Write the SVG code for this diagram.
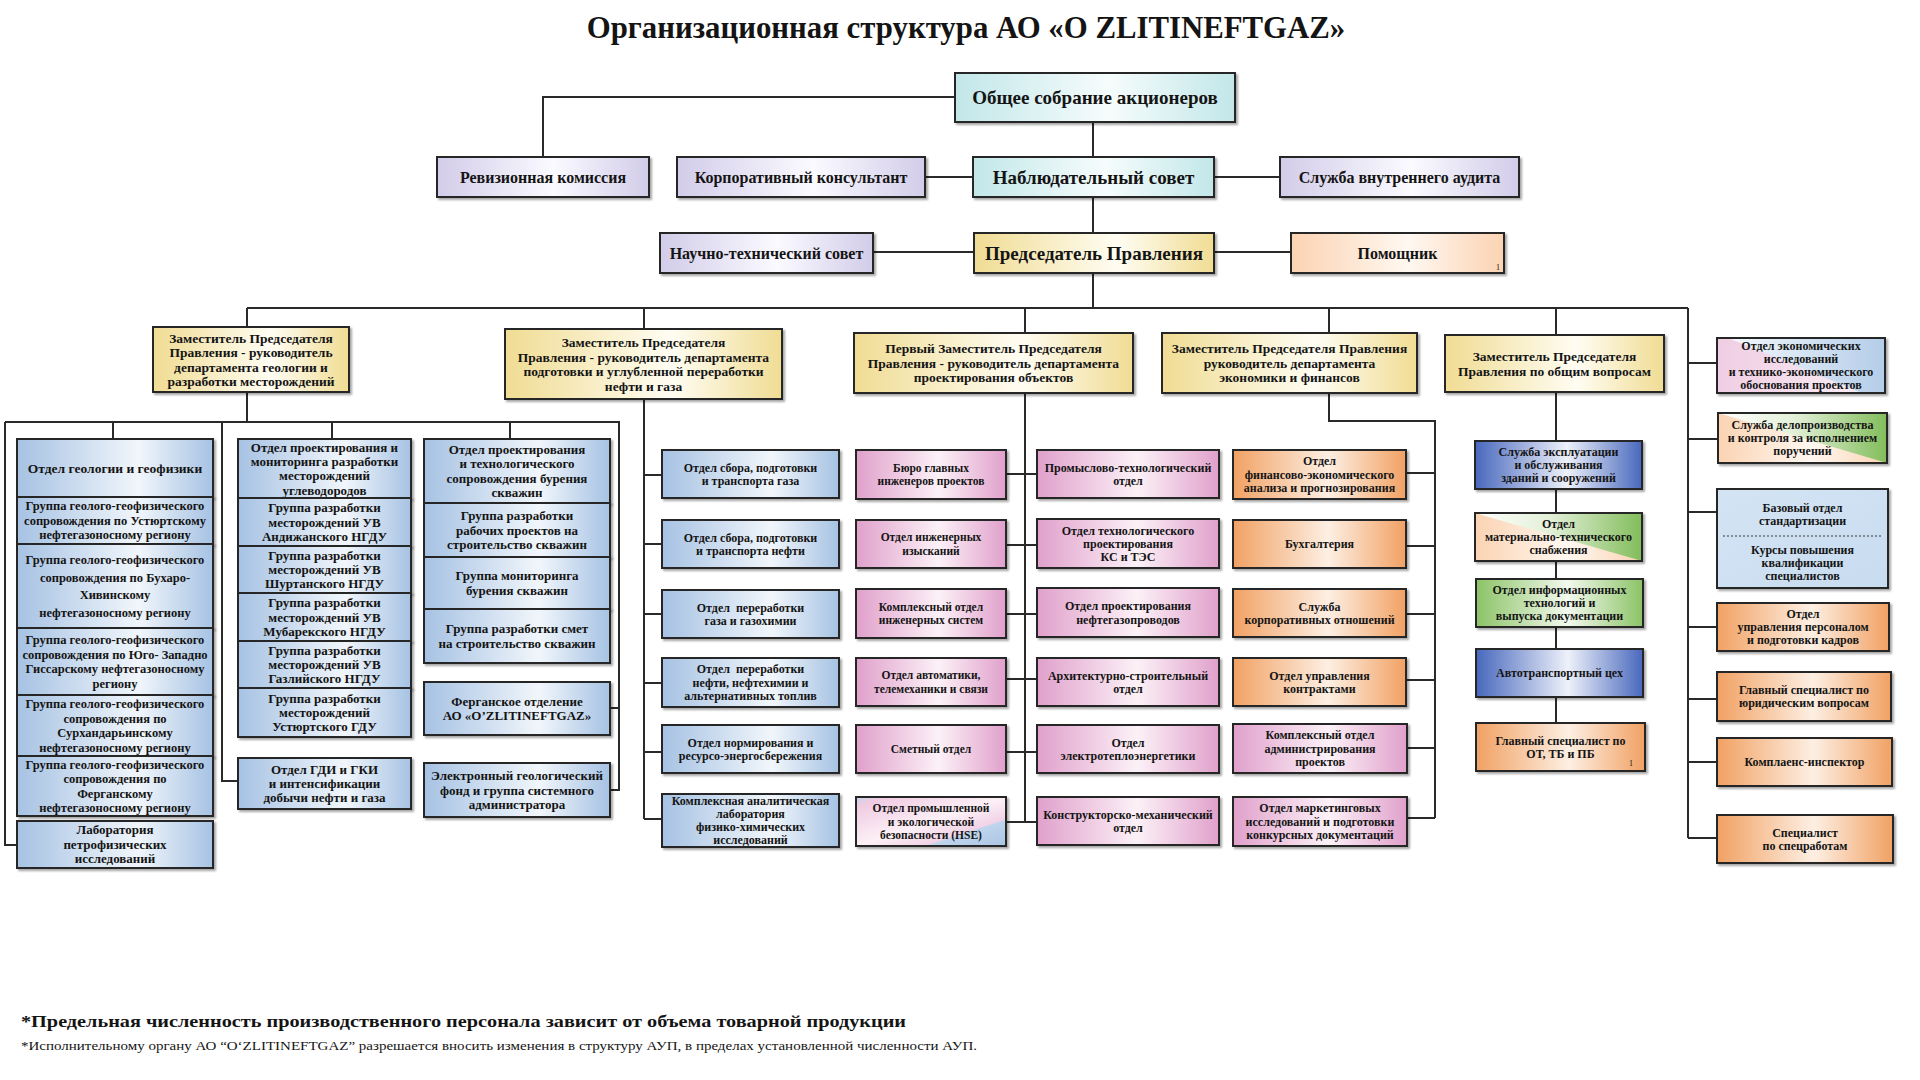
<svg xmlns="http://www.w3.org/2000/svg" width="1920" height="1080" viewBox="0 0 1920 1080">
<defs>
<linearGradient id="gBlue" x1="0" y1="0" x2="1" y2="0"><stop offset="0" stop-color="#a6c2e3"/><stop offset="0.62" stop-color="#f1f6fb"/><stop offset="1" stop-color="#a6c2e3"/></linearGradient>
<linearGradient id="gDBlue" x1="0" y1="0" x2="1" y2="0"><stop offset="0" stop-color="#4868bd"/><stop offset="0.55" stop-color="#eef1fa"/><stop offset="1" stop-color="#4868bd"/></linearGradient>
<linearGradient id="gGreen" x1="0" y1="0" x2="1" y2="0"><stop offset="0" stop-color="#8bc366"/><stop offset="0.55" stop-color="#f3f9ee"/><stop offset="1" stop-color="#8bc366"/></linearGradient>
<linearGradient id="gOrange" x1="0" y1="0" x2="1" y2="0"><stop offset="0" stop-color="#f1a163"/><stop offset="0.55" stop-color="#fdefe3"/><stop offset="1" stop-color="#f1a163"/></linearGradient>
<linearGradient id="gPink" x1="0" y1="0" x2="1" y2="0"><stop offset="0" stop-color="#e0a0cb"/><stop offset="0.55" stop-color="#fcf1f7"/><stop offset="1" stop-color="#e0a0cb"/></linearGradient>
<linearGradient id="gYellow" x1="0" y1="0" x2="1" y2="0"><stop offset="0" stop-color="#f0dc93"/><stop offset="0.6" stop-color="#fffdf3"/><stop offset="1" stop-color="#f0dc93"/></linearGradient>
<linearGradient id="gLav" x1="0" y1="0" x2="1" y2="0"><stop offset="0" stop-color="#d2cce9"/><stop offset="0.55" stop-color="#fbfaff"/><stop offset="1" stop-color="#d2cce9"/></linearGradient>
<linearGradient id="gCyan" x1="0" y1="0" x2="1" y2="0"><stop offset="0" stop-color="#c2e7e9"/><stop offset="0.55" stop-color="#f6fcfc"/><stop offset="1" stop-color="#c2e7e9"/></linearGradient>
<linearGradient id="gPeach" x1="0" y1="0" x2="1" y2="0"><stop offset="0" stop-color="#fbd3b2"/><stop offset="0.55" stop-color="#fff8f1"/><stop offset="1" stop-color="#fbd3b2"/></linearGradient>
<linearGradient id="gLBlue" x1="0" y1="0" x2="1" y2="1"><stop offset="0" stop-color="#d4e4f4"/><stop offset="1" stop-color="#c8dcf0"/></linearGradient>
<linearGradient id="gGreenTri" x1="0" y1="0" x2="1" y2="0"><stop offset="0" stop-color="#ffffff"/><stop offset="0.45" stop-color="#e3f0d8"/><stop offset="1" stop-color="#82bd5b"/></linearGradient>
<linearGradient id="gBlueTri" x1="0" y1="0" x2="1" y2="0"><stop offset="0" stop-color="#f4f8fc"/><stop offset="1" stop-color="#b4cde9"/></linearGradient>
<linearGradient id="gPinkBl" x1="0" y1="0" x2="1" y2="0"><stop offset="0" stop-color="#efcde3"/><stop offset="1" stop-color="#fbf2f7"/></linearGradient>
<linearGradient id="gHSE" x1="0" y1="0" x2="1" y2="1"><stop offset="0" stop-color="#c3d7ee"/><stop offset="0.1" stop-color="#f0cbe2"/><stop offset="0.5" stop-color="#fcf0f6"/><stop offset="0.72" stop-color="#f1d3e6"/><stop offset="0.74" stop-color="#bfd5ed"/><stop offset="1" stop-color="#a9c4e4"/></linearGradient>
<filter id="sh" x="-5%" y="-10%" width="115%" height="135%"><feDropShadow dx="2" dy="2" stdDeviation="1" flood-color="#000" flood-opacity="0.35"/></filter>
</defs>
<style>
.bx{stroke:#262626;stroke-width:2;filter:url(#sh)}
.ol{fill:none;stroke:#262626;stroke-width:2}
.blue{fill:url(#gBlue)} .dblue{fill:url(#gDBlue)} .green{fill:url(#gGreen)} .orange{fill:url(#gOrange)}
.pink{fill:url(#gPink)} .yellow{fill:url(#gYellow)} .lav{fill:url(#gLav)} .cyan{fill:url(#gCyan)}
.peach{fill:url(#gPeach)} .lblue{fill:url(#gLBlue)} .hse{fill:url(#gHSE)}
text{font-family:"Liberation Serif","DejaVu Serif","Times New Roman",serif;font-weight:bold;fill:#141414;text-anchor:middle}
.t19{font-size:19px} .t16{font-size:16px} .t135{font-size:13.5px} .t13{font-size:13px} .t125{font-size:12.5px} .t12{font-size:12px} .t115{font-size:11.5px}
.tiny{font-size:8px;font-weight:normal}
#connectors path{fill:none;stroke:#2a2a2a;stroke-width:2}
</style>
<rect width="1920" height="1080" fill="#ffffff"/>

<text x="966" y="38" style="font-size:30.8px">Организационная структура АО «O ZLITINEFTGAZ»</text>

<g id="connectors">
<path d="M955 97 H543 V157"/>
<path d="M1093 122 V157"/>
<path d="M925 177 H973"/>
<path d="M1214 177 H1280"/>
<path d="M1093 197 V233"/>
<path d="M873 252 H974"/>
<path d="M1214 252 H1291"/>
<path d="M1093 273 V308"/>
<path d="M247 308 H1688"/>
<path d="M247 308 V327"/>
<path d="M644 308 V329"/>
<path d="M1025 308 V333"/>
<path d="M1329 308 V333"/>
<path d="M1556 308 V335"/>
<path d="M1688 308 V838"/>
<path d="M247 392 V422"/>
<path d="M5 422 H619 V790 H610"/>
<path d="M5 422 V845 H17"/>
<path d="M113 422 V439"/>
<path d="M332 422 V439"/>
<path d="M510 422 V439"/>
<path d="M222 422 V781 H238"/>
<path d="M619 708 H610"/>
<path d="M644 399 V819"/>
<path d="M644 475 H662 M644 544 H662 M644 614 H662 M644 683 H662 M644 752 H662 M644 819 H662"/>
<path d="M1025 393 V822"/>
<path d="M1006 474 H1037 M1006 545 H1037 M1006 614 H1037 M1006 679 H1037 M1006 752 H1037 M1006 822 H1037"/>
<path d="M1329 393 V421 H1435 V818"/>
<path d="M1406 473 H1435 M1406 546 H1435 M1406 614 H1435 M1406 680 H1435 M1406 748 H1435 M1407 818 H1435"/>
<path d="M1556 392 V441 M1556 489 V513 M1556 561 V579 M1556 627 V649 M1556 697 V723"/>
<path d="M1688 363 H1717 M1688 439 H1718 M1688 512 H1717 M1688 627 H1717 M1688 699 H1717 M1688 762 H1717 M1688 838 H1717"/>
</g>

<!-- top level -->
<g id="n-obshee"><rect class="bx cyan" x="955" y="73" width="280" height="49"/><text class="t19" x="1095" y="104">Общее собрание акционеров</text></g>
<g id="n-reviz"><rect class="bx lav" x="437" y="157" width="212" height="40"/><text class="t16" x="543" y="183">Ревизионная комиссия</text></g>
<g id="n-korp"><rect class="bx lav" x="677" y="157" width="248" height="40"/><text class="t16" x="801" y="183">Корпоративный консультант</text></g>
<g id="n-nabl"><rect class="bx cyan" x="973" y="157" width="241" height="40"/><text class="t19" x="1093.5" y="184">Наблюдательный совет</text></g>
<g id="n-audit"><rect class="bx lav" x="1280" y="157" width="239" height="40"/><text class="t16" x="1399.5" y="183">Служба внутреннего аудита</text></g>
<g id="n-ntc"><rect class="bx lav" x="660" y="233" width="213" height="40"/><text class="t16" x="766.5" y="259">Научно-технический совет</text></g>
<g id="n-pred"><rect class="bx yellow" x="974" y="233" width="240" height="40"/><text class="t19" x="1094" y="260">Председатель Правления</text></g>
<g id="n-pomosh"><rect class="bx peach" x="1291" y="233" width="213" height="40"/><text class="t16" x="1397.5" y="259">Помощник</text><text class="tiny" x="1498" y="270">1</text></g>

<!-- heads -->
<g id="n-h1"><rect class="bx yellow" x="153" y="327" width="196" height="65"/><text class="t135" x="251" y="342.5"><tspan x="251">Заместитель Председателя</tspan><tspan x="251" dy="14.5">Правления - руководитель</tspan><tspan x="251" dy="14.5">департамента геологии и</tspan><tspan x="251" dy="14.5">разработки месторождений</tspan></text></g>
<g id="n-h2"><rect class="bx yellow" x="505" y="329" width="277" height="70"/><text class="t135" x="643.5" y="347"><tspan x="643.5">Заместитель Председателя</tspan><tspan x="643.5" dy="14.5">Правления - руководитель департамента</tspan><tspan x="643.5" dy="14.5">подготовки и углубленной переработки</tspan><tspan x="643.5" dy="14.5">нефти и газа</tspan></text></g>
<g id="n-h3"><rect class="bx yellow" x="854" y="333" width="279" height="60"/><text class="t135" x="993.5" y="353"><tspan x="993.5">Первый Заместитель Председателя</tspan><tspan x="993.5" dy="14.5">Правления - руководитель департамента</tspan><tspan x="993.5" dy="14.5">проектирования объектов</tspan></text></g>
<g id="n-h4"><rect class="bx yellow" x="1162" y="333" width="255" height="60"/><text class="t135" x="1289.5" y="353"><tspan x="1289.5">Заместитель Председателя Правления</tspan><tspan x="1289.5" dy="14.5">руководитель департамента</tspan><tspan x="1289.5" dy="14.5">экономики и финансов</tspan></text></g>
<g id="n-h5"><rect class="bx yellow" x="1445" y="335" width="219" height="57"/><text class="t135" x="1554.5" y="361"><tspan x="1554.5">Заместитель Председателя</tspan><tspan x="1554.5" dy="14.5">Правления по общим вопросам</tspan></text></g>

<!-- column 1 -->
<g id="n-geo"><rect class="bx blue" x="17" y="439" width="196" height="58"/><text class="t135" x="115" y="472.5">Отдел геологии и геофизики</text></g>
<g id="n-g1"><rect class="bx blue" x="17" y="497" width="196" height="47"/><text class="t125" x="115" y="510.4"><tspan x="115">Группа геолого-геофизического</tspan><tspan x="115" dy="14.5">сопровождения по Устюртскому</tspan><tspan x="115" dy="14.5">нефтегазоносному региону</tspan></text></g>
<g id="n-g2"><rect class="bx blue" x="17" y="544" width="196" height="84"/><text class="t125" x="115" y="564.2"><tspan x="115">Группа геолого-геофизического</tspan><tspan x="115" dy="17.5">сопровождения по Бухаро-</tspan><tspan x="115" dy="17.5">Хивинскому</tspan><tspan x="115" dy="17.5">нефтегазоносному региону</tspan></text></g>
<g id="n-g3"><rect class="bx blue" x="17" y="628" width="196" height="67"/><text class="t125" x="115" y="644.2"><tspan x="115">Группа геолого-геофизического</tspan><tspan x="115" dy="14.5">сопровождения по Юго- Западно</tspan><tspan x="115" dy="14.5">Гиссарскому нефтегазоносному</tspan><tspan x="115" dy="14.5">региону</tspan></text></g>
<g id="n-g4"><rect class="bx blue" x="17" y="695" width="196" height="61"/><text class="t125" x="115" y="708.2"><tspan x="115">Группа геолого-геофизического</tspan><tspan x="115" dy="14.5">сопровождения по</tspan><tspan x="115" dy="14.5">Сурхандарьинскому</tspan><tspan x="115" dy="14.5">нефтегазоносному региону</tspan></text></g>
<g id="n-g5"><rect class="bx blue" x="17" y="756" width="196" height="60"/><text class="t125" x="115" y="768.7"><tspan x="115">Группа геолого-геофизического</tspan><tspan x="115" dy="14.5">сопровождения по</tspan><tspan x="115" dy="14.5">Ферганскому</tspan><tspan x="115" dy="14.5">нефтегазоносному региону</tspan></text></g>
<g id="n-lab"><rect class="bx blue" x="17" y="821" width="196" height="47"/><text class="t13" x="115" y="834.4"><tspan x="115">Лаборатория</tspan><tspan x="115" dy="14.5">петрофизических</tspan><tspan x="115" dy="14.5">исследований</tspan></text></g>

<!-- column 2 -->
<g id="n-c2h"><rect class="bx blue" x="238" y="439" width="173" height="59"/><text class="t13" x="324.5" y="451.6"><tspan x="324.5">Отдел проектирования и</tspan><tspan x="324.5" dy="14.3">мониторинга разработки</tspan><tspan x="324.5" dy="14.3">месторождений</tspan><tspan x="324.5" dy="14.3">углеводородов</tspan></text></g>
<g id="n-c2a"><rect class="bx blue" x="238" y="498" width="173" height="48"/><text class="t13" x="324.5" y="512.3"><tspan x="324.5">Группа разработки</tspan><tspan x="324.5" dy="14.3">месторождений УВ</tspan><tspan x="324.5" dy="14.3">Андижанского НГДУ</tspan></text></g>
<g id="n-c2b"><rect class="bx blue" x="238" y="546" width="173" height="47"/><text class="t13" x="324.5" y="559.8"><tspan x="324.5">Группа разработки</tspan><tspan x="324.5" dy="14.3">месторождений УВ</tspan><tspan x="324.5" dy="14.3">Шуртанского НГДУ</tspan></text></g>
<g id="n-c2c"><rect class="bx blue" x="238" y="593" width="173" height="48"/><text class="t13" x="324.5" y="607.3"><tspan x="324.5">Группа разработки</tspan><tspan x="324.5" dy="14.3">месторождений УВ</tspan><tspan x="324.5" dy="14.3">Мубарекского НГДУ</tspan></text></g>
<g id="n-c2d"><rect class="bx blue" x="238" y="641" width="173" height="47"/><text class="t13" x="324.5" y="654.8"><tspan x="324.5">Группа разработки</tspan><tspan x="324.5" dy="14.3">месторождений УВ</tspan><tspan x="324.5" dy="14.3">Газлийского НГДУ</tspan></text></g>
<g id="n-c2e"><rect class="bx blue" x="238" y="688" width="173" height="49"/><text class="t13" x="324.5" y="702.8"><tspan x="324.5">Группа разработки</tspan><tspan x="324.5" dy="14.3">месторождений</tspan><tspan x="324.5" dy="14.3">Устюртского ГДУ</tspan></text></g>
<g id="n-gdi"><rect class="bx blue" x="238" y="758" width="173" height="51"/><text class="t13" x="324.5" y="773.8"><tspan x="324.5">Отдел ГДИ и ГКИ</tspan><tspan x="324.5" dy="14.3">и интенсификации</tspan><tspan x="324.5" dy="14.3">добычи нефти и газа</tspan></text></g>

<!-- column 3 -->
<g id="n-c3h"><rect class="bx blue" x="424" y="439" width="186" height="64"/><text class="t13" x="517" y="453.8"><tspan x="517">Отдел проектирования</tspan><tspan x="517" dy="14.5">и технологического</tspan><tspan x="517" dy="14.5">сопровождения бурения</tspan><tspan x="517" dy="14.5">скважин</tspan></text></g>
<g id="n-c3a"><rect class="bx blue" x="424" y="503" width="186" height="54"/><text class="t13" x="517" y="520"><tspan x="517">Группа разработки</tspan><tspan x="517" dy="14.5">рабочих проектов на</tspan><tspan x="517" dy="14.5">строительство скважин</tspan></text></g>
<g id="n-c3b"><rect class="bx blue" x="424" y="557" width="186" height="52"/><text class="t13" x="517" y="580.3"><tspan x="517">Группа мониторинга</tspan><tspan x="517" dy="14.5">бурения скважин</tspan></text></g>
<g id="n-c3c"><rect class="bx blue" x="424" y="609" width="186" height="54"/><text class="t13" x="517" y="633.3"><tspan x="517">Группа разработки смет</tspan><tspan x="517" dy="14.5">на строительство скважин</tspan></text></g>
<g id="n-ferg"><rect class="bx blue" x="424" y="682" width="186" height="53"/><text class="t13" x="517" y="705.8"><tspan x="517">Ферганское отделение</tspan><tspan x="517" dy="14.5">АО «O’ZLITINEFTGAZ»</tspan></text></g>
<g id="n-efond"><rect class="bx blue" x="424" y="763" width="186" height="54"/><text class="t13" x="517" y="780"><tspan x="517">Электронный геологический</tspan><tspan x="517" dy="14.5">фонд и группа системного</tspan><tspan x="517" dy="14.5">администратора</tspan></text></g>

<!-- column 4 -->
<g id="n-c4a"><rect class="bx blue" x="662" y="450" width="177" height="48"/><text class="t12" x="750.5" y="471.5"><tspan x="750.5">Отдел сбора, подготовки</tspan><tspan x="750.5" dy="13.5">и транспорта газа</tspan></text></g>
<g id="n-c4b"><rect class="bx blue" x="662" y="520" width="177" height="48"/><text class="t12" x="750.5" y="541.5"><tspan x="750.5">Отдел сбора, подготовки</tspan><tspan x="750.5" dy="13.5">и транспорта нефти</tspan></text></g>
<g id="n-c4c"><rect class="bx blue" x="662" y="590" width="177" height="48"/><text class="t12" x="750.5" y="611.5" xml:space="preserve"><tspan x="750.5">Отдел  переработки</tspan><tspan x="750.5" dy="13.5">газа и газохимии</tspan></text></g>
<g id="n-c4d"><rect class="bx blue" x="662" y="658" width="177" height="49"/><text class="t12" x="750.5" y="673.2" xml:space="preserve"><tspan x="750.5">Отдел  переработки</tspan><tspan x="750.5" dy="13.5">нефти, нефтехимии и</tspan><tspan x="750.5" dy="13.5">альтернативных топлив</tspan></text></g>
<g id="n-c4e"><rect class="bx blue" x="662" y="725" width="177" height="48"/><text class="t12" x="750.5" y="746.5"><tspan x="750.5">Отдел нормирования и</tspan><tspan x="750.5" dy="13.5">ресурсо-энергосбережения</tspan></text></g>
<g id="n-c4f"><rect class="bx blue" x="662" y="794" width="177" height="53"/><text class="t12" x="750.5" y="805.2"><tspan x="750.5">Комплексная аналитическая</tspan><tspan x="750.5" dy="13">лаборатория</tspan><tspan x="750.5" dy="13">физико-химических</tspan><tspan x="750.5" dy="13">исследований</tspan></text></g>

<!-- column 5 -->
<g id="n-c5a"><rect class="bx pink" x="856" y="450" width="150" height="49"/><text class="t115" x="931" y="471.8"><tspan x="931">Бюро главных</tspan><tspan x="931" dy="13.5">инженеров проектов</tspan></text></g>
<g id="n-c5b"><rect class="bx pink" x="856" y="520" width="150" height="48"/><text class="t115" x="931" y="541.3"><tspan x="931">Отдел инженерных</tspan><tspan x="931" dy="13.5">изысканий</tspan></text></g>
<g id="n-c5c"><rect class="bx pink" x="856" y="589" width="150" height="49"/><text class="t115" x="931" y="610.8"><tspan x="931">Комплексный отдел</tspan><tspan x="931" dy="13.5">инженерных систем</tspan></text></g>
<g id="n-c5d"><rect class="bx pink" x="856" y="658" width="150" height="48"/><text class="t115" x="931" y="679.3"><tspan x="931">Отдел автоматики,</tspan><tspan x="931" dy="13.5">телемеханики и связи</tspan></text></g>
<g id="n-c5e"><rect class="bx pink" x="856" y="725" width="150" height="48"/><text class="t115" x="931" y="753">Сметный отдел</text></g>
<g id="n-c5f"><rect class="bx hse" x="856" y="797" width="150" height="49"/><text class="t115" x="931" y="812"><tspan x="931">Отдел промышленной</tspan><tspan x="931" dy="13.5">и экологической</tspan><tspan x="931" dy="13.5">безопасности (HSE)</tspan></text></g>

<!-- column 6 -->
<g id="n-c6a"><rect class="bx pink" x="1037" y="450" width="182" height="48"/><text class="t12" x="1128" y="471.5"><tspan x="1128">Промыслово-технологический</tspan><tspan x="1128" dy="13.5">отдел</tspan></text></g>
<g id="n-c6b"><rect class="bx pink" x="1037" y="519" width="182" height="49"/><text class="t12" x="1128" y="534.7"><tspan x="1128">Отдел технологического</tspan><tspan x="1128" dy="13">проектирования</tspan><tspan x="1128" dy="13">КС и ТЭС</tspan></text></g>
<g id="n-c6c"><rect class="bx pink" x="1037" y="588" width="182" height="49"/><text class="t12" x="1128" y="610"><tspan x="1128">Отдел проектирования</tspan><tspan x="1128" dy="13.5">нефтегазопроводов</tspan></text></g>
<g id="n-c6d"><rect class="bx pink" x="1037" y="658" width="182" height="48"/><text class="t12" x="1128" y="679.5"><tspan x="1128">Архитектурно-строительный</tspan><tspan x="1128" dy="13.5">отдел</tspan></text></g>
<g id="n-c6e"><rect class="bx pink" x="1037" y="725" width="182" height="48"/><text class="t12" x="1128" y="746.5"><tspan x="1128">Отдел</tspan><tspan x="1128" dy="13.5">электротеплоэнергетики</tspan></text></g>
<g id="n-c6f"><rect class="bx pink" x="1037" y="797" width="182" height="48"/><text class="t12" x="1128" y="818.5"><tspan x="1128">Конструкторско-механический</tspan><tspan x="1128" dy="13.5">отдел</tspan></text></g>

<!-- column 7 -->
<g id="n-c7a"><rect class="bx orange" x="1233" y="450" width="173" height="49"/><text class="t12" x="1319.5" y="465.2"><tspan x="1319.5">Отдел</tspan><tspan x="1319.5" dy="13.5">финансово-экономического</tspan><tspan x="1319.5" dy="13.5">анализа и прогнозирования</tspan></text></g>
<g id="n-c7b"><rect class="bx orange" x="1233" y="520" width="173" height="48"/><text class="t12" x="1319.5" y="548.2">Бухгалтерия</text></g>
<g id="n-c7c"><rect class="bx orange" x="1233" y="589" width="173" height="48"/><text class="t12" x="1319.5" y="610.5"><tspan x="1319.5">Служба</tspan><tspan x="1319.5" dy="13.5">корпоративных отношений</tspan></text></g>
<g id="n-c7d"><rect class="bx orange" x="1233" y="658" width="173" height="48"/><text class="t12" x="1319.5" y="679.5"><tspan x="1319.5">Отдел управления</tspan><tspan x="1319.5" dy="13.5">контрактами</tspan></text></g>
<g id="n-c7e"><rect class="bx pink" x="1233" y="724" width="174" height="49"/><text class="t12" x="1320" y="739.2"><tspan x="1320">Комплексный отдел</tspan><tspan x="1320" dy="13.5">администрирования</tspan><tspan x="1320" dy="13.5">проектов</tspan></text></g>
<g id="n-c7f"><rect class="bx pink" x="1233" y="797" width="174" height="49"/><text class="t12" x="1320" y="812.2"><tspan x="1320">Отдел маркетинговых</tspan><tspan x="1320" dy="13.5">исследований и подготовки</tspan><tspan x="1320" dy="13.5">конкурсных документаций</tspan></text></g>

<!-- column 8 -->
<g id="n-c8a"><rect class="bx dblue" x="1475" y="441" width="167" height="48"/><text class="t12" x="1558.5" y="456.2"><tspan x="1558.5">Служба эксплуатации</tspan><tspan x="1558.5" dy="13">и обслуживания</tspan><tspan x="1558.5" dy="13">зданий и сооружений</tspan></text></g>
<g id="n-c8b"><rect class="bx peach" x="1475" y="513" width="167" height="48"/><polygon points="1475,513 1642,513 1642,561" fill="url(#gGreenTri)"/><rect class="ol" x="1475" y="513" width="167" height="48"/><text class="t12" x="1558.5" y="528.2"><tspan x="1558.5">Отдел</tspan><tspan x="1558.5" dy="13">материально-технического</tspan><tspan x="1558.5" dy="13">снабжения</tspan></text></g>
<g id="n-c8c"><rect class="bx green" x="1476" y="579" width="167" height="48"/><text class="t12" x="1559.5" y="594.2"><tspan x="1559.5">Отдел информационных</tspan><tspan x="1559.5" dy="13">технологий и</tspan><tspan x="1559.5" dy="13">выпуска документации</tspan></text></g>
<g id="n-c8d"><rect class="bx dblue" x="1476" y="649" width="167" height="48"/><text class="t12" x="1559.5" y="677.2">Автотранспортный цех</text></g>
<g id="n-c8e"><rect class="bx orange" x="1476" y="723" width="169" height="48"/><text class="t12" x="1560.5" y="744.7"><tspan x="1560.5">Главный специалист по</tspan><tspan x="1560.5" dy="13">ОТ, ТБ и ПБ</tspan></text><text class="tiny" x="1631" y="766">1</text></g>

<!-- column 9 -->
<g id="n-c9a"><rect class="bx" x="1717" y="338" width="168" height="55" fill="url(#gPinkBl)"/><polygon points="1728,338 1885,338 1885,393 1862,393" fill="url(#gBlueTri)"/><rect class="ol" x="1717" y="338" width="168" height="55"/><text class="t12" x="1801" y="350.2"><tspan x="1801">Отдел экономических</tspan><tspan x="1801" dy="13">исследований</tspan><tspan x="1801" dy="13">и технико-экономического</tspan><tspan x="1801" dy="13">обоснования проектов</tspan></text></g>
<g id="n-c9b"><rect class="bx peach" x="1718" y="413" width="169" height="50"/><polygon points="1718,413 1887,413 1887,463" fill="url(#gGreenTri)"/><rect class="ol" x="1718" y="413" width="169" height="50"/><text class="t12" x="1802.5" y="429.2"><tspan x="1802.5">Служба делопроизводства</tspan><tspan x="1802.5" dy="13">и контроля за исполнением</tspan><tspan x="1802.5" dy="13">поручений</tspan></text></g>
<g id="n-c9c"><rect class="bx lblue" x="1717" y="489" width="171" height="99"/><line x1="1723" y1="536" x2="1881" y2="536" stroke="#333" stroke-width="1" stroke-dasharray="2,2"/><text class="t12" x="1802.5" y="512"><tspan x="1802.5">Базовый отдел</tspan><tspan x="1802.5" dy="13">стандартизации</tspan></text><text class="t12" x="1802.5" y="554"><tspan x="1802.5">Курсы повышения</tspan><tspan x="1802.5" dy="13">квалификации</tspan><tspan x="1802.5" dy="13">специалистов</tspan></text></g>
<g id="n-c9d"><rect class="bx orange" x="1717" y="603" width="172" height="48"/><text class="t12" x="1803" y="618.2"><tspan x="1803">Отдел</tspan><tspan x="1803" dy="13">управления персоналом</tspan><tspan x="1803" dy="13">и подготовки кадров</tspan></text></g>
<g id="n-c9e"><rect class="bx orange" x="1717" y="672" width="174" height="49"/><text class="t12" x="1804" y="694.2"><tspan x="1804">Главный специалист по</tspan><tspan x="1804" dy="13">юридическим вопросам</tspan></text></g>
<g id="n-c9f"><rect class="bx orange" x="1717" y="738" width="175" height="48"/><text class="t12" x="1804.5" y="766.2">Комплаенс-инспектор</text></g>
<g id="n-c9g"><rect class="bx orange" x="1717" y="815" width="176" height="48"/><text class="t12" x="1805" y="836.7"><tspan x="1805">Специалист</tspan><tspan x="1805" dy="13">по спецработам</tspan></text></g>

<!-- footnotes -->
<text x="21" y="1027" style="font-size:17.5px;text-anchor:start" textLength="885" lengthAdjust="spacingAndGlyphs">*Предельная численность производственного персонала зависит от объема товарной продукции</text>
<text x="21" y="1050" style="font-size:13px;font-weight:normal;text-anchor:start" textLength="956" lengthAdjust="spacingAndGlyphs">*Исполнительному органу АО “O‘ZLITINEFTGAZ” разрешается вносить изменения в структуру АУП, в пределах установленной численности АУП.</text>
</svg>
